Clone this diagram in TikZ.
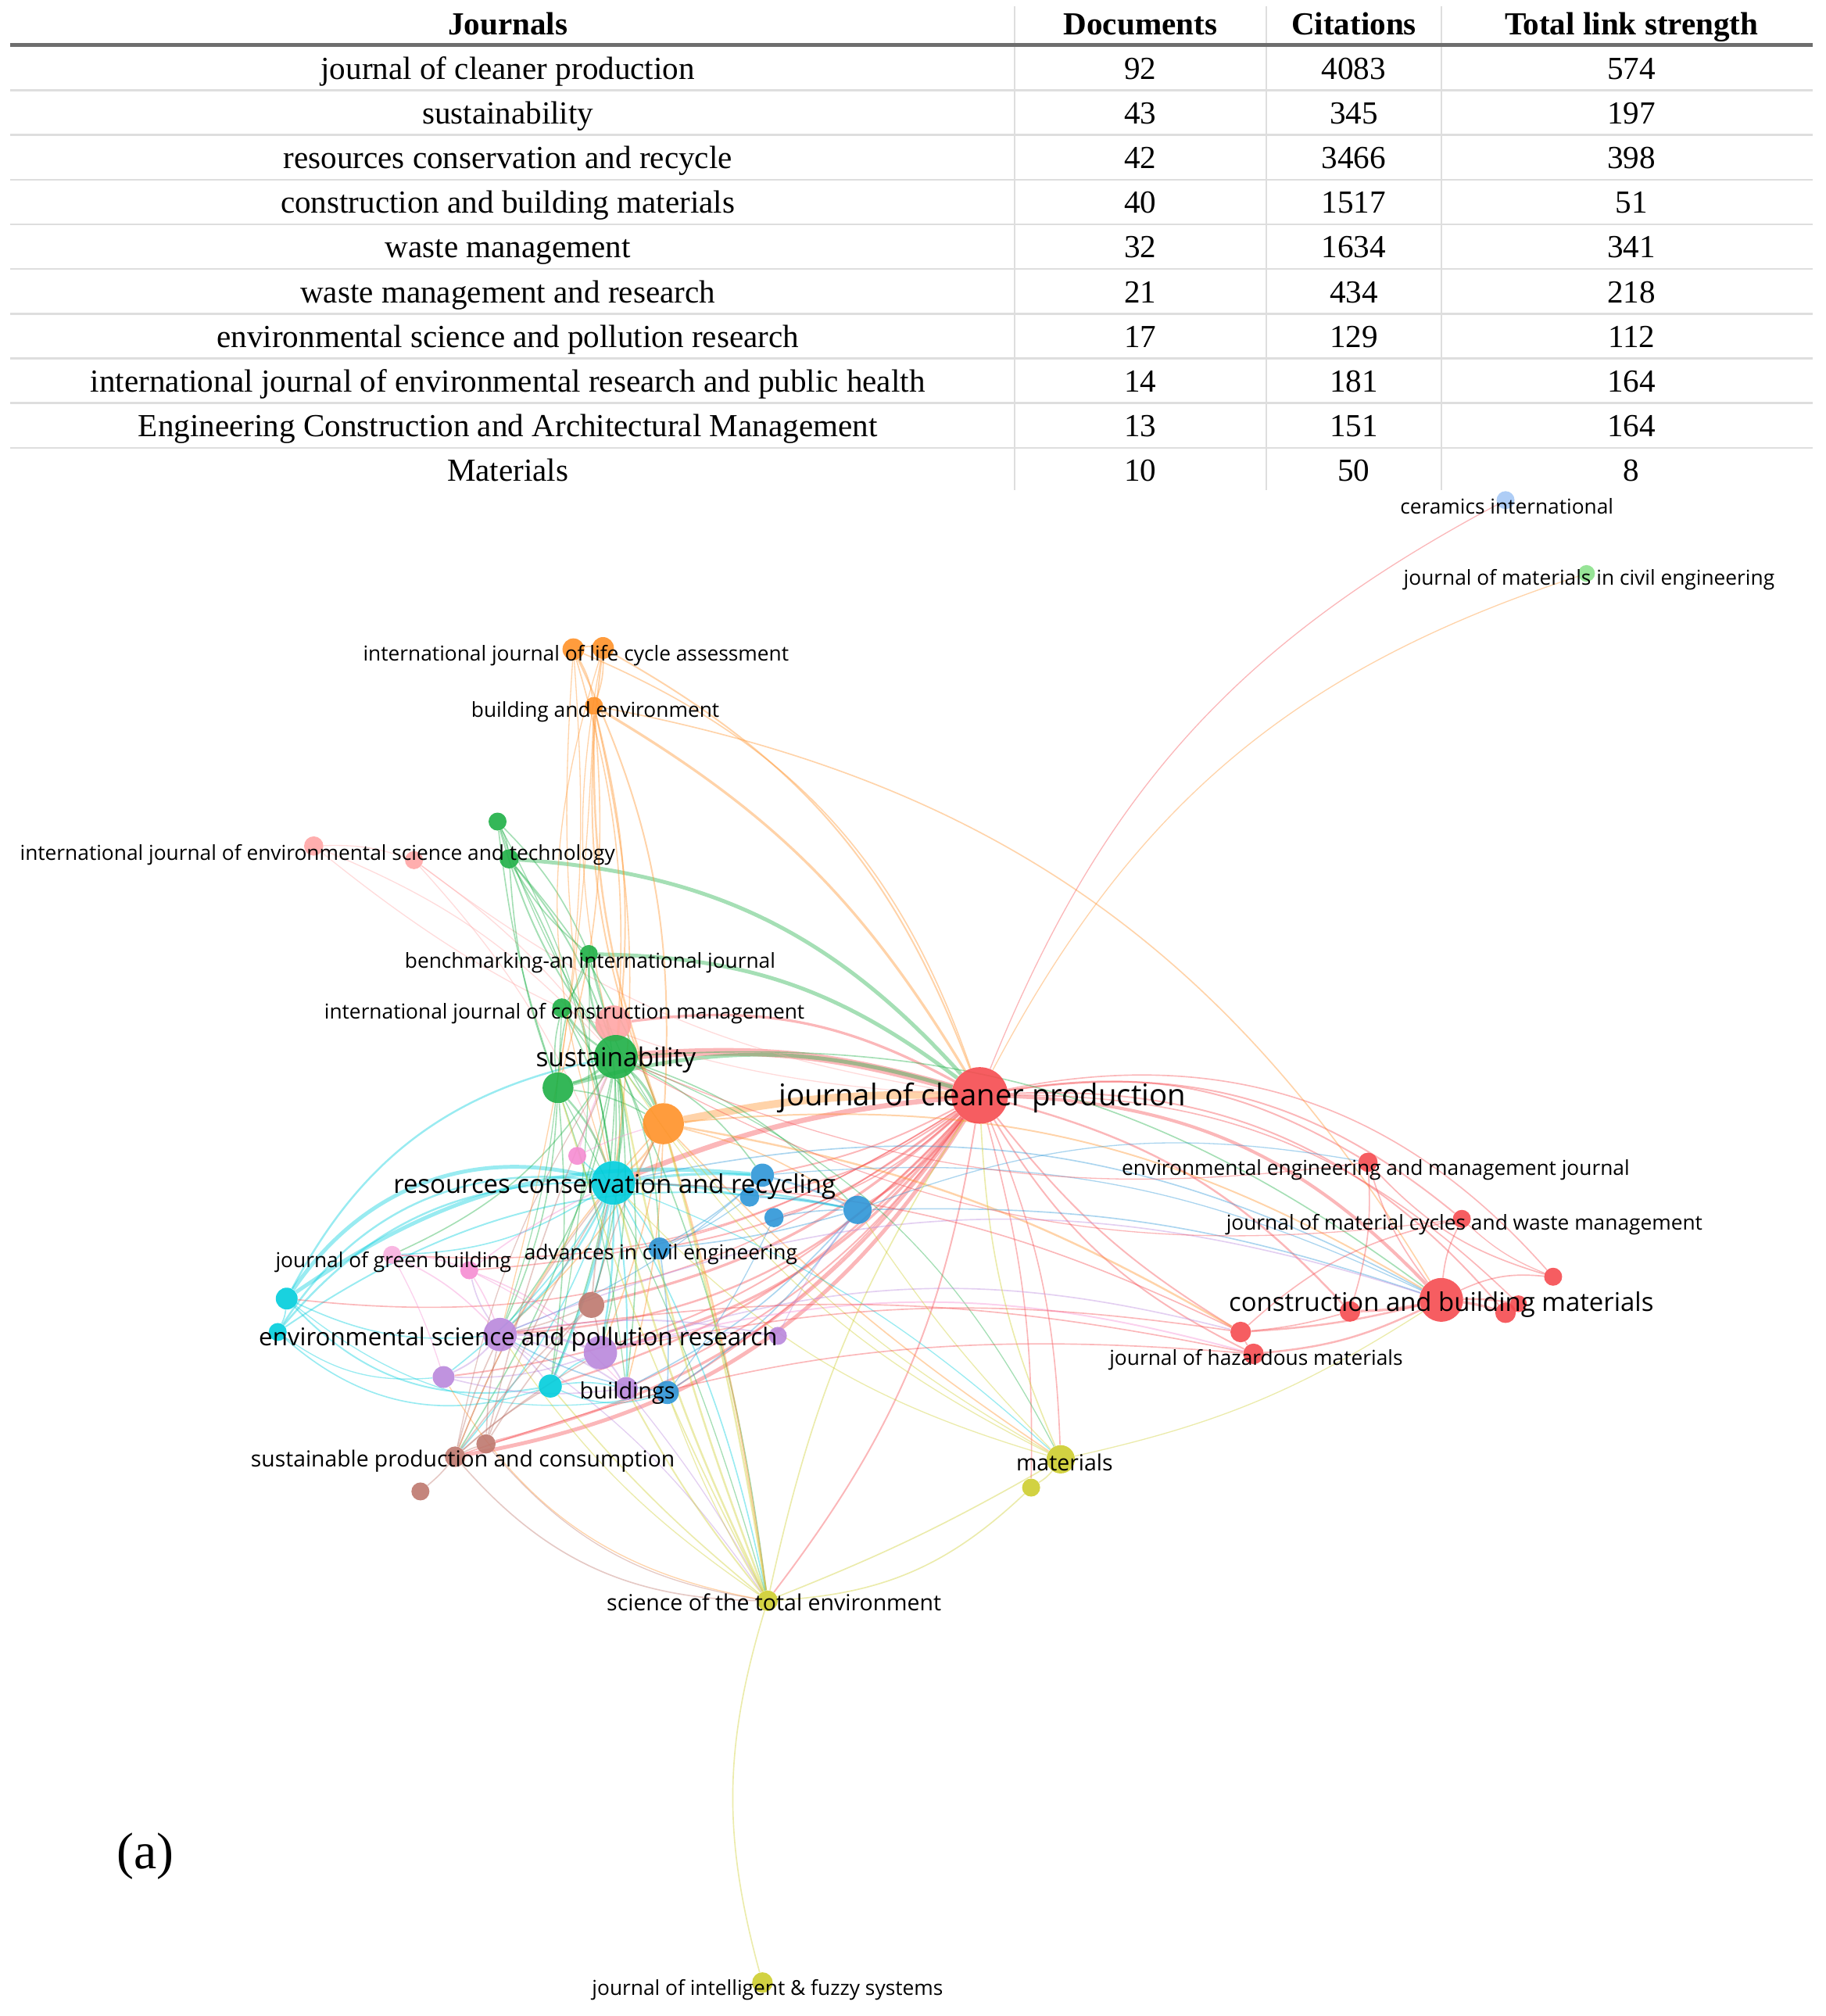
\documentclass[tikz,border=0pt]{standalone}
\usepackage{fontspec}
\setmainfont{Liberation Serif}
\newfontfamily\vosfont{Open Sans}
\usetikzlibrary{backgrounds}
\definecolor{vRed}{RGB}{245,75,80}
\definecolor{vGreen}{RGB}{30,175,70}
\definecolor{vBlue}{RGB}{45,150,215}
\definecolor{vYellow}{RGB}{205,205,45}
\definecolor{vPurple}{RGB}{185,135,220}
\definecolor{vCyan}{RGB}{0,205,220}
\definecolor{vOrange}{RGB}{255,145,40}
\definecolor{vBrown}{RGB}{190,120,110}
\definecolor{vPink}{RGB}{245,140,210}
\definecolor{vSalmon}{RGB}{255,165,165}
\definecolor{vSky}{RGB}{165,200,245}
\definecolor{vMint}{RGB}{140,225,140}
\definecolor{ruleDark}{RGB}{110,110,110}
\definecolor{ruleLight}{RGB}{222,222,222}

\begin{document}
\begin{tikzpicture}[x=1pt,y=-1pt,
  dot/.style={circle,inner sep=0pt,minimum size=#1,fill opacity=0.9},
  lb/.style={font=\vosfont\fontsize{#1}{#1}\selectfont,inner sep=0pt,anchor=mid,yshift=-4.5pt},
  lb/.default=16,
  cell/.style={font=\fontsize{25}{25}\selectfont,inner sep=0pt,anchor=mid,yshift=-5pt},
  head/.style={font=\bfseries\fontsize{25}{25}\selectfont,inner sep=0pt,anchor=mid,yshift=-5pt},
  lk/.style={draw=#1,draw opacity=0.4}]
\useasboundingbox (0,0) rectangle (1420,1568);

\draw[ruleLight,line width=1pt] (789,5) -- (789,381) (985,5) -- (985,381) (1121,5) -- (1121,381);
\foreach \i in {1,...,9}
  \draw[ruleLight,line width=1.5pt] (8,35.5+34.75*\i) -- (1410,35.5+34.75*\i);
\draw[ruleDark,line width=3pt] (8,35) -- (1410,35);
\node[head] (h-j) at (395,20) {Journals};
\node[head] (h-d) at (887,20) {Documents};
\node[head] (h-c) at (1053,20) {Citations};
\node[head] (h-t) at (1269,20) {Total link strength};
\foreach \j/\d/\c/\t [count=\i] in {
  journal of cleaner production/92/4083/574,
  sustainability/43/345/197,
  resources conservation and recycle/42/3466/398,
  construction and building materials/40/1517/51,
  waste management/32/1634/341,
  waste management and research/21/434/218,
  environmental science and pollution research/17/129/112,
  international journal of environmental research and public health/14/181/164,
  Engineering Construction and Architectural Management/13/151/164,
  Materials/10/50/8}
{
  \node[cell] (r\i-j) at (395,19.5+34.75*\i) {\j};
  \node[cell] (r\i-d) at (887,19.5+34.75*\i) {\d};
  \node[cell] (r\i-c) at (1053,19.5+34.75*\i) {\c};
  \node[cell] (r\i-t) at (1269,19.5+34.75*\i) {\t};
}

\node[dot=44,fill=vRed] (jcp) at (762,852) {};
\node[dot=28,fill=vSalmon] (wmr) at (477,796) {};
\node[dot=34,fill=vGreen] (sus) at (479,822) {};
\node[dot=24,fill=vGreen] (grA) at (434,846) {};
\node[dot=32,fill=vOrange] (orA) at (516,874) {};
\node[dot=14,fill=vPink] (pkB) at (449,899) {};
\node[dot=34,fill=vCyan] (rcr) at (477,920) {};
\node[dot=18,fill=vBlue] (blA) at (593,914) {};
\node[dot=15,fill=vBlue] (blB) at (583,931) {};
\node[dot=15,fill=vBlue] (blC) at (602,947) {};
\node[dot=22,fill=vBlue] (blD) at (667,941) {};
\node[dot=17,fill=vBlue] (ace) at (513,971) {};
\node[dot=14,fill=vPink!70] (jgb) at (305,976) {};
\node[dot=14,fill=vPink] (pkC) at (365,988) {};
\node[dot=17,fill=vCyan] (cyA) at (223,1010) {};
\node[dot=14,fill=vCyan] (cyB) at (216,1036) {};
\node[dot=20,fill=vBrown] (brA) at (460,1015) {};
\node[dot=26,fill=vPurple] (espr) at (389,1038) {};
\node[dot=26,fill=vPurple] (puA) at (467,1052) {};
\node[dot=14,fill=vPurple] (puB) at (605,1039) {};
\node[dot=17,fill=vPurple] (puC) at (345,1071) {};
\node[dot=18,fill=vCyan] (cyC) at (428,1078) {};
\node[dot=18,fill=vPurple] (bld) at (487,1080) {};
\node[dot=18,fill=vBlue] (blE) at (519,1083) {};
\node[dot=16,fill=vBrown] (spc) at (354,1133) {};
\node[dot=15,fill=vBrown] (brB) at (378,1123) {};
\node[dot=14,fill=vBrown] (brC) at (327,1160) {};
\node[dot=22,fill=vYellow] (mat) at (825,1135) {};
\node[dot=14,fill=vYellow] (yeA) at (802,1157) {};
\node[dot=16,fill=vYellow] (stoten) at (597,1245) {};
\node[dot=16,fill=vYellow] (jifs) at (593,1542) {};
\node[dot=14,fill=vSky] (cer) at (1171,389) {};
\node[dot=13,fill=vMint] (jmce) at (1234,446) {};
\node[dot=17,fill=vOrange] (ijlca) at (446,505) {};
\node[dot=17,fill=vOrange] (orB) at (469,504) {};
\node[dot=14,fill=vOrange] (bae) at (462,549) {};
\node[dot=14,fill=vGreen] (grB) at (387,639) {};
\node[dot=15,fill=vSalmon] (ijest) at (244,658) {};
\node[dot=14,fill=vSalmon] (pkD) at (322,669) {};
\node[dot=15,fill=vGreen] (grC) at (396,668) {};
\node[dot=14,fill=vGreen] (bench) at (458,742) {};
\node[dot=15,fill=vGreen] (ijcm) at (437,784) {};
\node[dot=15,fill=vRed] (eemj) at (1064,904) {};
\node[dot=14,fill=vRed] (jmcwm) at (1137,948) {};
\node[dot=14,fill=vRed] (rdA) at (1208,993) {};
\node[dot=34,fill=vRed] (cbm) at (1121,1011) {};
\node[dot=16,fill=vRed] (rdB) at (1050,1020) {};
\node[dot=16,fill=vRed] (rdC) at (1171,1021) {};
\node[dot=13,fill=vRed] (rdD) at (1181,1014) {};
\node[dot=16,fill=vRed] (rdE) at (965,1036) {};
\node[dot=16,fill=vRed] (jhm) at (975,1053) {};

\begin{pgfonlayer}{background}
\foreach \a/\b/\c/\w/\s in {
  sus/jcp/vRed/6/10, orA/jcp/vOrange/6/6, grA/jcp/vGreen/3/16, rcr/jcp/vRed/4/8,
  wmr/jcp/vRed/2/18, grC/jcp/vGreen/3/22, bench/jcp/vGreen/3/18,
  cyA/rcr/vCyan/3/35, cyA/blA/vCyan/3/20, cyA/sus/vCyan/1.5/25, cyB/rcr/vCyan/1.5/32,
  cyB/blD/vCyan/1.2/22,
  jcp/cbm/vRed/2.5/22, jcp/rdB/vRed/1.5/16, jcp/rdC/vRed/1.2/26, jcp/rdD/vRed/1/22,
  jcp/rdE/vRed/1.2/-10, jcp/jhm/vRed/1.2/-16, jcp/eemj/vRed/1.2/20, jcp/jmcwm/vRed/1.2/24,
  jcp/rdA/vRed/1/30, jcp/cer/vRed/0.8/20, jcp/jmce/vOrange/0.8/22,
  orB/jcp/vOrange/1.2/20, ijlca/jcp/vOrange/1/24, bae/jcp/vOrange/2/14,
  jcp/spc/vRed/3/24, jcp/brB/vRed/2/20, jcp/puA/vRed/2/18, jcp/espr/vRed/1.5/22,
  jcp/cyC/vRed/1.5/16, jcp/bld/vRed/1.2/14, jcp/blE/vRed/1.2/10, jcp/brA/vRed/2/14,
  jcp/puC/vRed/1.2/20, jcp/jgb/vRed/1/18, jcp/cyA/vRed/1/22, jcp/pkC/vRed/1/14,
  jcp/mat/vRed/1/10, jcp/stoten/vRed/1.2/14, jcp/yeA/vRed/1/8, jcp/blD/vRed/1.5/10,
  jcp/blA/vRed/1.2/8, jcp/blB/vRed/1.2/12, jcp/blC/vRed/1/12, jcp/ace/vRed/1.2/14,
  jcp/ijest/vSalmon/0.8/18, jcp/pkD/vSalmon/0.8/14, pkD/rcr/vSalmon/0.8/10,
  ijest/sus/vSalmon/0.8/12, ijest/pkD/vSalmon/0.8/10, pkD/sus/vSalmon/0.8/8,
  sus/grA/vGreen/2/10, sus/ijcm/vGreen/1.5/10, sus/bench/vGreen/1.5/14, sus/grB/vGreen/1.2/10,
  sus/grC/vGreen/1.2/-10, sus/rcr/vGreen/2/10, sus/orA/vGreen/2/10, sus/espr/vGreen/1/14,
  sus/stoten/vGreen/1/8, sus/brA/vGreen/1/10, sus/jgb/vGreen/1/16, sus/cyC/vGreen/1/10,
  sus/puA/vGreen/1/10, sus/blA/vGreen/1/14, sus/blD/vGreen/1/14, sus/mat/vGreen/0.8/20,
  sus/cbm/vGreen/1/20, sus/spc/vGreen/1/10, sus/ace/vGreen/1/10, sus/bld/vGreen/1/8,
  grA/grB/vGreen/1/6, grA/grC/vGreen/1/8, grA/bench/vGreen/1/10, grA/ijcm/vGreen/1/10,
  grA/rcr/vGreen/1.5/10, grA/espr/vGreen/1/10, grA/cyC/vGreen/1/6, grA/orA/vGreen/1/10,
  grA/bld/vGreen/0.8/6, grA/stoten/vGreen/0.8/6,
  grB/grC/vGreen/1/10, grB/bench/vGreen/1/10, grB/rcr/vGreen/0.8/10, grB/orA/vGreen/0.8/-8,
  grC/rcr/vGreen/1/10, grC/bench/vGreen/1/-10, bench/rcr/vGreen/1/10, ijcm/rcr/vGreen/1/10,
  bench/ijcm/vGreen/1/10, grC/orA/vGreen/1/10, bench/orA/vGreen/0.8/-10, ijcm/orA/vGreen/0.8/-8,
  ijcm/espr/vGreen/0.8/8, bench/cyC/vGreen/0.8/6,
  ijlca/orB/vOrange/1/10, ijlca/bae/vOrange/1/10, orB/bae/vOrange/1/10, ijlca/orA/vOrange/1.2/14,
  orB/orA/vOrange/1.2/-14, bae/orA/vOrange/1.5/-10, bae/sus/vOrange/1.2/10, ijlca/sus/vOrange/1/10,
  orB/sus/vOrange/0.8/-12, bae/rcr/vOrange/1/10, ijlca/rcr/vOrange/0.8/-8, bae/grA/vOrange/1/10,
  bae/cbm/vOrange/1/24, orB/rcr/vOrange/0.8/-18, ijlca/grA/vOrange/0.8/6, bae/espr/vOrange/0.8/6,
  orA/stoten/vOrange/1.5/4, orA/spc/vOrange/1/-10, orA/espr/vOrange/1/10, orA/cbm/vOrange/1.2/18,
  orA/rcr/vOrange/1.5/10, orA/blD/vOrange/1/10, orA/rdE/vOrange/1.5/10, orA/mat/vOrange/1/-6,
  orA/bld/vOrange/1/6, orA/puA/vOrange/1/6,
  rcr/espr/vCyan/1.5/10, rcr/cyC/vCyan/2/5, rcr/puA/vCyan/1.5/5, rcr/bld/vCyan/1.2/5,
  rcr/brA/vCyan/1.2/5, rcr/blA/vCyan/2/5, rcr/blB/vCyan/1.5/5, rcr/blD/vCyan/1.5/5,
  rcr/stoten/vCyan/1/8, rcr/cbm/vBlue/1/20, rcr/ace/vCyan/1/5, rcr/pkB/vCyan/1/5,
  rcr/jgb/vCyan/1/15, rcr/spc/vCyan/1/10, rcr/mat/vCyan/0.8/10, rcr/cyB/vCyan/1.5/-25,
  rcr/puC/vCyan/1/10, cyA/cyC/vCyan/1.2/-28, cyB/cyC/vCyan/1/-30, cyA/cyB/vCyan/1/10,
  cyA/espr/vCyan/1/-15, cyB/puC/vCyan/0.8/-20, cyC/bld/vCyan/1/10, cyC/puA/vCyan/1/10,
  cyA/blE/vCyan/0.8/-25, cyC/blE/vCyan/1/-20,
  blA/blB/vBlue/1/5, blA/blD/vBlue/1.5/5, blB/blD/vBlue/1/5, blC/blD/vBlue/1/5,
  blA/ace/vBlue/1/5, ace/blE/vBlue/1/5, blD/blE/vBlue/1/10, blD/bld/vBlue/1/10,
  blA/cbm/vBlue/0.8/15, blD/cbm/vBlue/1/10, blD/eemj/vBlue/0.8/15, blE/espr/vBlue/1/10,
  blD/ace/vBlue/1/5, blA/espr/vBlue/0.8/10, blC/blE/vBlue/0.8/6, blB/ace/vBlue/0.8/6,
  espr/puA/vPurple/2/10, espr/puC/vPurple/1.2/10, espr/puB/vPurple/1.2/10, espr/bld/vPurple/1.2/10,
  espr/pkC/vPurple/1/10, puA/bld/vPurple/1.2/5, puA/puB/vPurple/1/10, puC/puA/vPurple/1/-10,
  puC/bld/vPurple/1/-10, espr/cyC/vPurple/1/5, puA/rdE/vPurple/1/16, espr/cbm/vPurple/1/20,
  bld/stoten/vPurple/0.8/5, espr/stoten/vPurple/0.8/10, puB/blD/vPurple/0.8/6,
  jgb/pkC/vPink/1/10, jgb/espr/vPink/1/10, pkC/espr/vPink/1/5, pkC/rcr/vPink/1/5,
  pkC/puA/vPink/1/10, pkB/sus/vPink/1/5, pkB/orA/vPink/0.8/5, jgb/puC/vPink/0.8/5,
  puA/jhm/vPink/1.2/15, pkC/bld/vPink/0.8/10,
  spc/brB/vBrown/1/5, spc/brC/vBrown/1/5, spc/brA/vBrown/1/5, brB/brA/vBrown/1/5,
  spc/espr/vBrown/1/5, spc/puA/vBrown/1/5, brB/rcr/vBrown/1/5, spc/rcr/vBrown/1/8,
  spc/cyC/vBrown/1/5, brB/espr/vBrown/1/5, brA/espr/vBrown/1/5, brA/puA/vBrown/1/5,
  brB/sus/vBrown/1/5, spc/sus/vBrown/0.8/10, stoten/spc/vBrown/1/24, stoten/brB/vBrown/0.8/20,
  brA/rcr/vBrown/1.2/5, brA/orA/vBrown/1/6,
  stoten/jifs/vYellow/1/-16, stoten/mat/vYellow/1/-4, stoten/yeA/vYellow/1/-20,
  stoten/sus/vYellow/1.5/5, stoten/rcr/vYellow/1.5/5, stoten/orA/vYellow/1.5/-3,
  stoten/bld/vYellow/1.2/5, stoten/jcp/vYellow/1/10, stoten/grA/vYellow/1/5,
  stoten/espr/vYellow/0.8/10, stoten/cyC/vYellow/1/5, stoten/blE/vYellow/0.8/5,
  stoten/puC/vOrange/0.8/24,
  mat/jcp/vYellow/1/10, mat/sus/vYellow/0.8/15, mat/rcr/vYellow/0.8/15, mat/yeA/vYellow/1/10,
  mat/blD/vYellow/0.8/5, mat/orA/vYellow/0.8/10, mat/cbm/vYellow/0.8/-10,
  cbm/rdA/vRed/1/15, cbm/rdB/vRed/2/5, cbm/rdC/vRed/2/5, cbm/rdD/vRed/1.5/5,
  cbm/rdE/vRed/1.5/5, cbm/jhm/vRed/1.5/10, cbm/eemj/vRed/1/10, cbm/jmcwm/vRed/1/10,
  rdB/rdE/vRed/1/5, jhm/rdE/vRed/1/5, eemj/rdB/vRed/1/10, jmcwm/rdE/vRed/1/-15,
  eemj/rdA/vRed/1/-15, jhm/espr/vRed/1/-10, rdE/puA/vRed/1/-10, rdE/rcr/vRed/1/-12,
  jhm/spc/vRed/1/-12, jmcwm/sus/vRed/0.8/18, eemj/sus/vRed/0.8/15, rdA/jmcwm/vRed/0.8/10}
  \draw[lk=\c,line width=\w] (\a) to[bend left=\s] (\b);
\end{pgfonlayer}

\node[lb] (cer-t) at (1172,393) {ceramics international};
\node[lb] (jmce-t) at (1236,448) {journal of materials in civil engineering};
\node[lb] (ijlca-t) at (448,507) {international journal of life cycle assessment};
\node[lb] (bae-t) at (463,551) {building and environment};
\node[lb] (ijest-t) at (247,662) {international journal of environmental science and technology};
\node[lb] (bench-t) at (459,746) {benchmarking-an international journal};
\node[lb] (ijcm-t) at (439,786) {international journal of construction management};
\node[lb=20.3] (sus-t) at (479,823) {sustainability};
\node[lb=23.3] (jcp-t) at (764,853) {journal of cleaner production};
\node[lb=20] (rcr-t) at (478,921) {resources conservation and recycling};
\node[lb] (eemj-t) at (1070,907) {environmental engineering and management journal};
\node[lb] (jmcwm-t) at (1139,950) {journal of material cycles and waste management};
\node[lb] (jgb-t) at (306,979) {journal of green building};
\node[lb] (ace-t) at (514,973) {advances in civil engineering};
\node[lb=20] (cbm-t) at (1121,1013) {construction and building materials};
\node[lb=19] (espr-t) at (403,1040) {environmental science and pollution research};
\node[lb] (jhm-t) at (977,1055) {journal of hazardous materials};
\node[lb=17.5] (bld-t) at (488,1081) {buildings};
\node[lb=17.2] (spc-t) at (360,1134) {sustainable production and consumption};
\node[lb=17.3] (mat-t) at (828,1137) {materials};
\node[lb=17.3] (stoten-t) at (602,1246) {science of the total environment};
\node[lb=16] (jifs-t) at (597,1545) {journal of intelligent \& fuzzy systems};
\node[font=\fontsize{40}{40}\selectfont,inner sep=0pt,anchor=mid,yshift=-5pt] (tag) at (113,1446) {(a)};
\end{tikzpicture}
\end{document}
